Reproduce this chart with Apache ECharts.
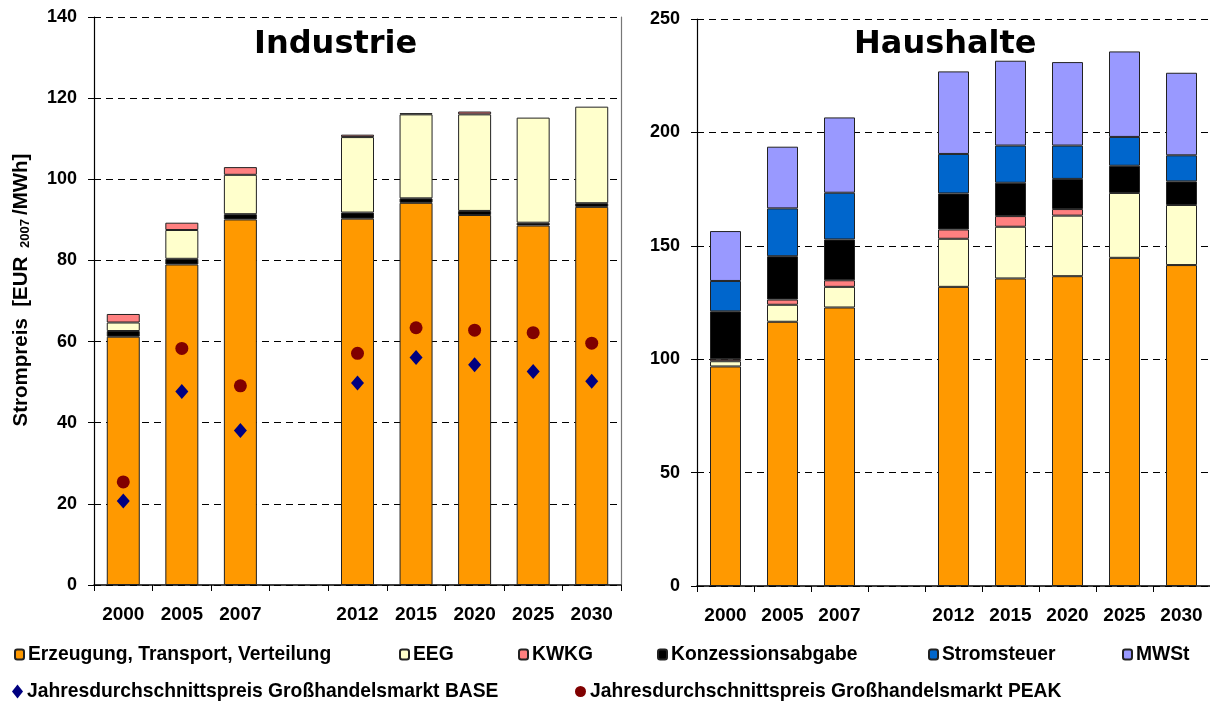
<!DOCTYPE html>
<html>
<head>
<meta charset="utf-8">
<script src="https://cdn.jsdelivr.net/npm/echarts@6/dist/echarts.min.js"></script>
<style>
html,body{margin:0;padding:0;background:#fff;}
#c{width:1210px;height:704px;}
</style>
</head>
<body>
<div id="c"></div>
<script>
// ---- Data ----
const categories = ['2000', '2005', '2007', '', '2012', '2015', '2020', '2025', '2030'];

// Industrie (EUR2007/MWh)
const indErzeugung = [61.2, 79.0, 90.1, null, 90.3, 94.2, 91.2, 88.6, 93.2];
const indKonzession = [1.4, 1.4, 1.3, null, 1.5, 1.1, 1.0, 0.7, 0.9];
const indEEG = [2.1, 7.1, 9.7, null, 18.6, 20.7, 23.8, 25.9, 23.8];
const indKWKG = [2.1, 1.8, 1.9, null, 0.6, 0.3, 0.7, null, null];
const indBase = [20.7, 47.7, 38.1, null, 49.8, 56.1, 54.3, 52.6, 50.2];
const indPeak = [25.4, 58.3, 49.1, null, 57.1, 63.4, 62.8, 62.2, 59.6];

// Haushalte (EUR2007/MWh)
const hhErzeugung = [96.8, 116.5, 122.8, null, 131.9, 135.6, 136.6, 144.7, 141.5];
const hhEEG = [2.3, 7.5, 9.1, null, 21.2, 22.8, 26.7, 28.6, 26.5];
const hhKWKG = [0.9, 2.3, 2.9, null, 4.1, 4.7, 2.9, null, null];
const hhKonzession = [21.1, 19.1, 18.0, null, 15.9, 14.7, 13.3, 12.0, 10.4];
const hhStromsteuer = [13.4, 21.1, 20.6, null, 17.4, 16.4, 14.7, 12.7, 11.5];
const hhMWSt = [22.0, 27.2, 33.2, null, 36.4, 37.4, 36.8, 37.7, 36.4];

const indTicks = {min: 0, max: 140, interval: 20};
const hhTicks = {min: 0, max: 250, interval: 50};

const names = {
  erz: 'Erzeugung, Transport, Verteilung',
  eeg: 'EEG',
  kwkg: 'KWKG',
  konz: 'Konzessionsabgabe',
  strom: 'Stromsteuer',
  mwst: 'MWSt',
  base: 'Jahresdurchschnittspreis Großhandelsmarkt BASE',
  peak: 'Jahresdurchschnittspreis Großhandelsmarkt PEAK'
};
const colors = {
  erz: '#FF9900', eeg: '#FFFFCC', kwkg: '#FF8080', konz: '#000000',
  strom: '#0066CC', mwst: '#9999FF', base: '#000080', peak: '#800000'
};

const FONT = 'Liberation Sans, Arial, sans-serif';

function bar(key, data, gi, width) {
  return {
    type: 'bar', name: names[key], data: data, stack: 's' + gi,
    xAxisIndex: gi, yAxisIndex: gi === 0 ? 0 : 2, barWidth: width,
    itemStyle: {color: colors[key], borderColor: '#222', borderWidth: 1},
    emphasis: {disabled: true}
  };
}

function xAx(gi) {
  return {
    type: 'category', gridIndex: gi, data: categories, boundaryGap: true,
    axisLine: {show: true, lineStyle: {color: '#000', width: 1.5}},
    axisTick: {show: true, interval: 0, length: 6, lineStyle: {color: '#000'}},
    axisLabel: {interval: 0, fontSize: 19, fontWeight: 'bold', color: '#000', margin: 20, fontFamily: FONT}
  };
}
function yAx(gi, t, extra) {
  return Object.assign({
    type: 'value', gridIndex: gi, min: t.min, max: t.max, interval: t.interval,
    axisLine: {show: true, lineStyle: {color: '#000', width: 1.2}},
    axisTick: {show: true, length: 6, lineStyle: {color: '#000'}},
    axisLabel: {fontSize: 18, fontWeight: 'bold', color: '#000', margin: 17, fontFamily: FONT},
    splitLine: {show: true, lineStyle: {color: '#000', type: [7, 5], width: 1}}
  }, extra || {});
}

function legend(key, left, top, w, h) {
  return {
    data: [names[key]], left: left, top: top, padding: 0,
    itemWidth: w, itemHeight: h, selectedMode: false,
    textStyle: {fontSize: 19.3, fontWeight: 'bold', color: '#000', fontFamily: FONT, padding: [0, 0, 0, -1]}
  };
}

const option = {
  animation: false,
  backgroundColor: '#fff',
  graphic: [
    {type: 'text', left: 254, top: 29, style: {text: 'Industrie', font: 'bold 32px "DejaVu Sans"', fill: '#000'}},
    {type: 'text', left: 854, top: 29, style: {text: 'Haushalte', font: 'bold 32px "DejaVu Sans"', fill: '#000'}}
  ],
  grid: [
    {left: 94, top: 17, width: 527, height: 568},
    {left: 697, top: 19, width: 516, height: 567}
  ],
  legend: [
    legend('erz', 14, 645, 9, 10),
    legend('eeg', 399, 645, 9, 10),
    legend('kwkg', 518, 645, 9, 10),
    legend('konz', 657, 645, 9, 10),
    legend('strom', 928, 645, 9, 10),
    legend('mwst', 1122, 645, 9, 10),
    legend('base', 12, 682, 11, 14),
    legend('peak', 575, 682, 11, 14)
  ],
  xAxis: [xAx(0), xAx(1)],
  yAxis: [
    yAx(0, indTicks, {
      name: '{a|Strompreis  [EUR }{b|2007}{a|/MWh]}',
      nameLocation: 'middle', nameRotate: 90, nameGap: 62,
      nameTextStyle: {
        padding: [0, 0, 0, 22],
        rich: {
          a: {fontSize: 20.5, fontWeight: 'bold', color: '#000', fontFamily: FONT, lineHeight: 23, verticalAlign: 'bottom'},
          b: {fontSize: 13, fontWeight: 'bold', color: '#000', fontFamily: FONT, lineHeight: 23, verticalAlign: 'bottom', padding: [0, 4, 0, 3]}
        }
      }
    }),
    yAx(0, indTicks, {
      position: 'right', axisLine: {show: true, lineStyle: {color: '#777', width: 1.2}},
      axisTick: {show: false}, axisLabel: {show: false}, splitLine: {show: false}
    }),
    yAx(1, hhTicks)
  ],
  series: [
    bar('erz', indErzeugung, 0, 33),
    bar('konz', indKonzession, 0, 33),
    bar('eeg', indEEG, 0, 33),
    bar('kwkg', indKWKG, 0, 33),
    {
      type: 'scatter', name: names.base, data: indBase, xAxisIndex: 0, yAxisIndex: 0,
      symbol: 'diamond', symbolSize: [13, 15], z: 5,
      itemStyle: {color: colors.base, opacity: 1}
    },
    {
      type: 'scatter', name: names.peak, data: indPeak, xAxisIndex: 0, yAxisIndex: 0,
      symbol: 'circle', symbolSize: 13, z: 5,
      itemStyle: {color: colors.peak, opacity: 1}
    },
    bar('erz', hhErzeugung, 1, 31),
    bar('eeg', hhEEG, 1, 31),
    bar('kwkg', hhKWKG, 1, 31),
    bar('konz', hhKonzession, 1, 31),
    bar('strom', hhStromsteuer, 1, 31),
    bar('mwst', hhMWSt, 1, 31)
  ]
};

const chart = echarts.init(document.getElementById('c'), null, {renderer: 'canvas'});
chart.setOption(option);
</script>
</body>
</html>
